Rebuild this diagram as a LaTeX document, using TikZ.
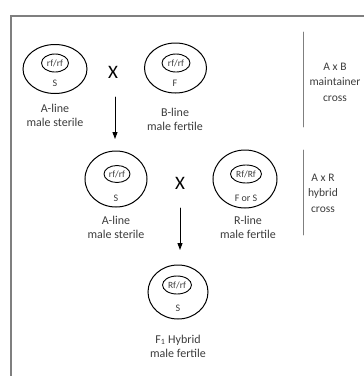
\documentclass[tikz,border=0pt]{standalone}
\usepackage{fontspec}
\setmainfont{Carlito}
\usetikzlibrary{arrows.meta,positioning,shapes.geometric}
\usepackage{xcolor}
\definecolor{tinta}{HTML}{3C3C3C}
\definecolor{gris}{HTML}{7F7F7F}

\begin{document}
\begin{tikzpicture}[x=1pt,y=-1pt,>={Triangle[width=5pt,length=7pt]},line cap=round,
  planta/.style={draw=black,ellipse,line width=1pt,inner sep=0pt},
  gen/.style={draw=black,ellipse,line width=0.9pt,inner sep=0pt,
              font=\fontsize{9.5}{10}\selectfont,text=tinta},
  cito/.style={font=\fontsize{10}{11}\selectfont,text=tinta},
  rotulo/.style={align=center,font=\fontsize{12}{14}\selectfont,text=tinta},
  cruce/.style={font=\fontsize{19}{20}\selectfont,text=black},
  lado/.style={align=center,font=\fontsize{11.5}{15.5}\selectfont,text=tinta}]
  \useasboundingbox (0,0) rectangle (364,376);
  % --- marco ---
  \draw[gris,line width=1.5pt] (11,380) -- (11,16) -- (370,16);
  % --- fila 1: A x B ---
  \node[planta,minimum width=64pt,minimum height=49pt] (A1) at (55,69) {};
  \node[gen,minimum width=27pt,minimum height=18pt] (A1g) at (55,63) {rf/rf};
  \node[cito] (A1c) at (55,83) {S};
  \node[rotulo] (A1l) at (55,115) {A-line\\male sterile};
  \node[cruce] (X1) at (113,72) {X};
  \node[planta,minimum width=62pt,minimum height=50pt] (B) at (175.5,68) {};
  \node[gen,minimum width=28pt,minimum height=18pt] (Bg) at (176,63) {rf/rf};
  \node[cito] (Bc) at (175,83) {F};
  \node[rotulo] (Bl) at (175,119) {B-line\\male fertile};
  \coordinate (f1a) at (115,97);
  \coordinate (f1b) at (115,139);
  \draw[->,line width=0.9pt] (f1a) -- (f1b);
  % --- fila 2: A x R ---
  \node[planta,minimum width=62pt,minimum height=56pt] (A2) at (116,179) {};
  \node[gen,minimum width=26pt,minimum height=17pt] (A2g) at (117,174) {rf/rf};
  \node[cito] (A2c) at (116,198) {S};
  \node[rotulo] (A2l) at (116,227) {A-line\\male sterile};
  \node[cruce] (X2) at (180,183) {X};
  \node[planta,minimum width=64pt,minimum height=58pt] (R) at (245,179) {};
  \node[gen,minimum width=31pt,minimum height=18pt] (Rg) at (246,174) {Rf/Rf};
  \node[cito] (Rc) at (246,198) {F or S};
  \node[rotulo] (Rl) at (248,227) {R-line\\male fertile};
  \coordinate (f2a) at (180,208);
  \coordinate (f2b) at (180,250);
  \draw[->,line width=0.9pt] (f2a) -- (f2b);
  % --- F1 ---
  \node[planta,minimum width=60pt,minimum height=54pt] (F1) at (178,292) {};
  \node[gen,minimum width=29pt,minimum height=18pt] (F1g) at (177,285) {Rf/rf};
  \node[cito] (F1c) at (178,308) {S};
  \node[rotulo] (F1l) at (178,346) {F\textsubscript{1} Hybrid\\male fertile};
  % --- columna derecha ---
  \coordinate (l1a) at (303,32);
  \coordinate (l1b) at (303,127);
  \draw[gris,line width=0.8pt] (l1a) -- (l1b);
  \node[lado] (AB) at (335,82) {A x B\\maintainer\\cross};
  \coordinate (l2a) at (303,150);
  \coordinate (l2b) at (303,235);
  \draw[gris,line width=0.8pt] (l2a) -- (l2b);
  \node[lado] (AR) at (323,193) {A x R\\hybrid\\cross};
\end{tikzpicture}
\end{document}
